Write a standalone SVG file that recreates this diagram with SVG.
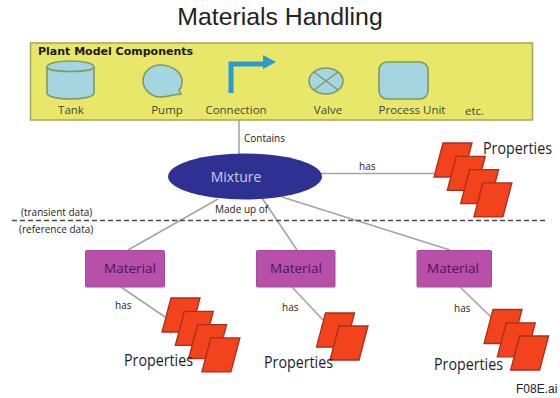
<svg xmlns="http://www.w3.org/2000/svg" width="560" height="398" viewBox="0 0 560 398">
<style>
text{font-family:"Open Sans","Liberation Sans",sans-serif;fill:#2b2b2b}
.lb{font-size:11.5px;fill:#3d4a3d}
.sm{font-size:10px;fill:#222;font-weight:500}
.pr{font-size:15.500px;fill:#1c1c2a;font-weight:500}
.icon{fill:#a5d5e0;stroke:#7f9a5e;stroke-width:1.6}
.ln{stroke:#a8a2a8;stroke-width:1.6;fill:none}
.mat{fill:#b84fa8;stroke:#a8499c;stroke-width:1}
.mt{font-size:13.500px;fill:#4a1560;text-anchor:middle;font-weight:500}
.p{fill:#f2431c;stroke:#a5301c;stroke-width:1.3}
</style>
<defs>
<polygon id="sheet" class="p" points="9,0 38,0 29,34 0,34"/>
</defs>
<rect width="560" height="398" fill="#fff"/>
<text x="280" y="25" text-anchor="middle" style="font-family:'Liberation Sans',sans-serif;font-size:24.800px;fill:#222">Materials Handling</text>

<g id="connectors">
<line class="ln" x1="239" y1="120" x2="239" y2="154"/>
<line class="ln" x1="321" y1="173.500" x2="434" y2="173.500" stroke-width="2"/>
<line class="ln" x1="218" y1="199" x2="128" y2="250"/>
<line class="ln" x1="262" y1="198" x2="297" y2="250"/>
<line class="ln" x1="282" y1="197" x2="450" y2="250"/>
<line class="ln" x1="121" y1="287" x2="165" y2="317"/>
<line class="ln" x1="292" y1="287" x2="323" y2="320"/>
<line class="ln" x1="460" y1="287" x2="491" y2="317"/>
<line x1="12" y1="220.500" x2="547" y2="220.500" stroke="#4a4a4a" stroke-width="1.500" stroke-dasharray="5 3"/>
</g>

<g id="components">
<rect x="30.500" y="43" width="502" height="77" fill="#e8e76a" stroke="#a8a35c" stroke-width="1.500"/>
<text x="38" y="55" style="font-family:'DejaVu Sans',sans-serif;font-size:11px;font-weight:bold;fill:#1a1a1a">Plant Model Components</text>
</g>
<g id="tank">
<path class="icon" d="M47,67V93C47,101 94,101 94,93V67C94,59 47,59 47,67Z"/>
<path d="M47,67C47,73 94,73 94,67" fill="none" stroke="#7f9a5e" stroke-width="1.600"/>
<text class="lb" x="71" y="114" text-anchor="middle">Tank</text>
</g>
<g id="pump">
<path class="icon" d="M160,65C172,65 182,72 182,81C182,85 181,88 179,90L181,94L173,95C169,96 165,97 160,97C152,97 143,90 143,81C143,72 151,65 160,65Z"/>
<text class="lb" x="167" y="114" text-anchor="middle">Pump</text>
</g>
<g id="connection">
<path d="M231,93V64H264" fill="none" stroke="#2a9bd0" stroke-width="5"/>
<polygon points="263,55 276,62 263,69" fill="#2a9bd0"/>
<text class="lb" x="236" y="114" text-anchor="middle">Connection</text>
</g>
<g id="valve">
<ellipse class="icon" cx="326" cy="81" rx="17" ry="13"/>
<path d="M314,72L338,90M338,72L314,90" stroke="#7f9a5e" stroke-width="1.400"/>
<text class="lb" x="328" y="114" text-anchor="middle">Valve</text>
</g>
<g id="process-unit">
<rect class="icon" x="379" y="62" width="49" height="37" rx="8"/>
<text class="lb" x="412" y="114" text-anchor="middle">Process Unit</text>
</g>
<text class="lb" x="465" y="115">etc.</text>

<text class="sm" x="244" y="142">Contains</text>
<text class="sm" x="359" y="170">has</text>
<text class="sm" x="215" y="213">Made up of</text>
<text class="sm" x="21" y="216">(transient data)</text>
<text class="sm" x="19" y="233">(reference data)</text>

<g id="mixture">
<ellipse cx="245" cy="176.500" rx="77" ry="23" fill="#2e3192"/>
<text x="236" y="182" text-anchor="middle" style="font-size:14px;fill:#c9cce8;font-weight:500">Mixture</text>
</g>

<g id="properties-top">
<use href="#sheet" x="434" y="143"/><use href="#sheet" x="447.300" y="156.300"/><use href="#sheet" x="460.600" y="169.600"/><use href="#sheet" x="473.900" y="182.900"/>
<text class="pr" x="483" y="154" textLength="69" lengthAdjust="spacingAndGlyphs">Properties</text>
</g>

<g id="material-1">
<rect class="mat" x="85.500" y="250.500" width="79" height="36.500" rx="1"/>
<text class="mt" x="130" y="273">Material</text>
</g>
<text class="sm" x="115" y="309">has</text>
<g id="properties-1">
<use href="#sheet" x="162" y="298"/><use href="#sheet" x="175.300" y="311.300"/><use href="#sheet" x="188.600" y="324.600"/><use href="#sheet" x="201.900" y="337.900"/>
<text class="pr" x="124" y="366" textLength="69" lengthAdjust="spacingAndGlyphs">Properties</text>
</g>

<g id="material-2">
<rect class="mat" x="256.500" y="250.500" width="78.500" height="36.500" rx="1"/>
<text class="mt" x="296" y="273">Material</text>
</g>
<text class="sm" x="282" y="311">has</text>
<g id="properties-2">
<use href="#sheet" x="316.500" y="313"/><use href="#sheet" x="330" y="326"/>
<text class="pr" x="264" y="368" textLength="69" lengthAdjust="spacingAndGlyphs">Properties</text>
</g>

<g id="material-3">
<rect class="mat" x="417" y="250.500" width="74.500" height="36.500" rx="1"/>
<text class="mt" x="453" y="273">Material</text>
</g>
<text class="sm" x="454" y="312">has</text>
<g id="properties-3">
<use href="#sheet" x="484" y="309.500"/><use href="#sheet" x="497.300" y="322.800"/><use href="#sheet" x="510.600" y="336"/>
<text class="pr" x="434" y="370" textLength="69" lengthAdjust="spacingAndGlyphs">Properties</text>
</g>

<text x="516" y="393" style="font-family:'Liberation Sans',sans-serif;font-size:12px;fill:#222">F08E.ai</text>
</svg>
